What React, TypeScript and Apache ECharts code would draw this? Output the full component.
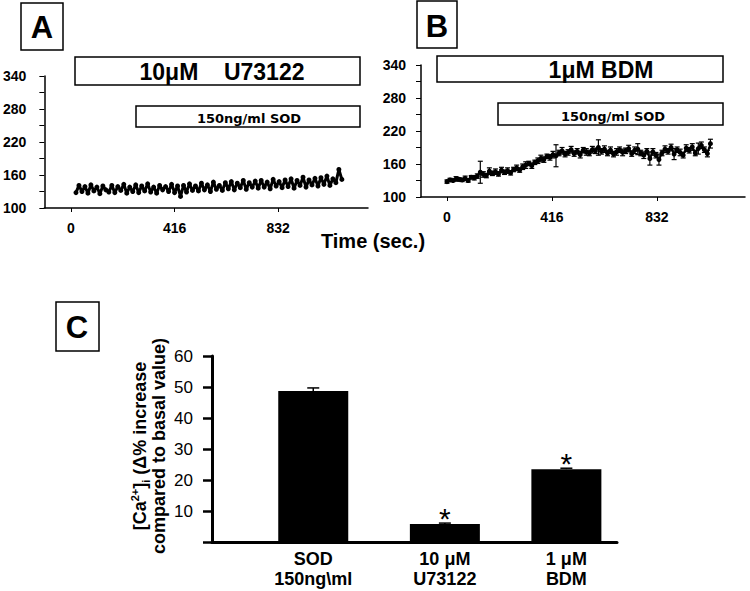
import React, { useEffect, useRef } from "react";
import * as echarts from "echarts";

// ---------- Panel A / B : time traces ----------
const traceYTicks = [100, 130, 160, 190, 220, 250, 280, 310, 340];
const traceYLabels = [100, 160, 220, 280, 340];
const traceXLabels = [0, 416, 832];

const sampleIntervalSec = 12;
const startTimeA = 20;
const startTimeB = 0;

// Panel A: 10 µM U73122 + 150 ng/ml SOD
const valuesA = [
  128, 141, 130, 139, 127, 142, 131, 138, 126, 140, 133,
  129, 141, 128, 139, 132, 143, 127, 138, 130, 142,
  128, 140, 131, 144, 129, 138, 127, 141, 133, 139,
  130, 143, 128, 140, 121, 141, 129, 144, 132, 140,
  131, 145, 133, 142, 130, 147, 134, 141, 132, 146,
  135, 148, 133, 145, 137, 150, 134, 146, 138, 149,
  136, 150, 138, 147, 135, 152, 140, 148, 137, 151,
  139, 153, 136, 150, 141, 156, 138, 151, 142, 154,
  140, 155, 143, 158, 141, 153, 146, 170, 152,
];

// Panel B: 1 µM BDM + 150 ng/ml SOD (mean and error)
const valuesB = [
  128, 131, 130, 133, 132, 131, 134, 130, 136, 135,
  138, 145, 141, 139, 147, 143, 146, 142, 149, 145,
  148, 144, 150, 153, 149, 155, 158, 161, 157, 163,
  166, 170, 168, 174, 172, 177, 175, 180, 184, 178,
  181, 186, 179, 183, 177, 185, 182, 180, 186, 184,
  190, 183, 187, 180, 185, 178, 182, 186, 181, 184,
  188, 179, 185, 187, 180, 176, 183, 170, 182, 176,
  168, 180, 187, 183, 190, 178, 186, 181, 176, 189,
  185, 191, 180, 188, 194, 186, 179, 197,
];
const errorsB = [
  3, 3, 2, 4, 3, 3, 4, 3, 3, 4,
  4, 20, 5, 4, 6, 4, 5, 4, 5, 4,
  5, 4, 4, 5, 4, 5, 6, 4, 5, 4,
  5, 6, 5, 4, 5, 6, 20, 5, 6, 5,
  5, 6, 5, 5, 6, 5, 6, 5, 6, 5,
  14, 5, 6, 5, 6, 5, 6, 5, 6, 5,
  6, 5, 6, 10, 5, 6, 5, 12, 6, 5,
  10, 5, 6, 5, 6, 10, 5, 6, 5, 6,
  5, 6, 5, 10, 6, 5, 6, 8,
];

// ---------- Panel C : bar chart ----------
const categoriesC = ["SOD\n150ng\\ml", "10 μM\nU73122", "1 μM\nBDM"];
const valuesC = [48.7, 5.8, 23.5];
const errorsC = [1.0, 0.3, 0.3];
const significanceC = ["", "*", "*"];

// layout: horizontal slot of each bar on the C x-axis (axis spans 0..4)
const barSlotsC = [1, 2.3, 3.5];

const FAMILY = "'Liberation Sans', Arial, sans-serif";

export default function App() {
  const ref = useRef<HTMLDivElement>(null);

  useEffect(() => {
    if (!ref.current) return;
    const chart = echarts.init(ref.current, undefined, { renderer: "svg" });

    const dataA = valuesA.map((v, i) => [startTimeA + i * sampleIntervalSec, v]);
    const dataB = valuesB.map((v, i) => [startTimeB + i * sampleIntervalSec, v]);
    const errDataB = valuesB.map((v, i) => [
      startTimeB + i * sampleIntervalSec,
      v - errorsB[i],
      v + errorsB[i],
    ]);
    const dataC = valuesC.map((v, i) => [barSlotsC[i], v]);
    const errDataC = valuesC.map((v, i) => [barSlotsC[i], v, errorsC[i]]);

    const traceLabel = {
      color: "#000",
      fontFamily: FAMILY,
      fontWeight: "bold" as const,
      fontSize: 14,
    };
    const blackLine = (w: number) => ({
      show: true,
      onZero: false,
      lineStyle: { color: "#000", width: w },
    });

    const traceX = (gridIndex: number, min: number, max: number) => ({
      type: "value" as const,
      gridIndex,
      min,
      max,
      axisLine: blackLine(1.5),
      axisTick: { show: true, customValues: traceXLabels, length: 4, lineStyle: { color: "#000" } },
      axisLabel: { ...traceLabel, customValues: traceXLabels, margin: 13 },
      splitLine: { show: false },
    });
    const traceY = (gridIndex: number, margin: number) => ({
      type: "value" as const,
      gridIndex,
      min: 100,
      max: 340,
      axisLine: blackLine(1.5),
      axisTick: { show: true, customValues: traceYTicks, length: 5, lineStyle: { color: "#000" } },
      axisLabel: { ...traceLabel, customValues: traceYLabels, margin },
      splitLine: { show: false },
    });

    const box = (x: number, y: number, w: number, h: number, lw = 1.5) => ({
      type: "rect",
      shape: { x, y, width: w, height: h },
      style: { fill: "#fff", stroke: "#000", lineWidth: lw },
    });
    const txt = (x: number, y: number, text: string, size: number, family = FAMILY) => ({
      type: "text",
      x,
      y,
      style: {
        text,
        fontSize: size,
        fontWeight: "bold",
        fontFamily: family,
        fill: "#000",
        textAlign: "center",
        textVerticalAlign: "middle",
      },
    });

    const option: any = {
      animation: false,
      backgroundColor: "#fff",
      grid: [
        { left: 40, top: 76, width: 328, height: 132 },
        { left: 421, top: 65, width: 324, height: 132 },
        { left: 212, top: 356, width: 405, height: 186 },
      ],
      xAxis: [
        traceX(0, -107, 1193),
        traceX(1, -103, 1181),
        {
          type: "value",
          gridIndex: 2,
          min: 0,
          max: 4,
          axisLine: blackLine(3),
          axisTick: { show: false },
          axisLabel: {
            customValues: barSlotsC,
            formatter: (v: number) => {
              const i = barSlotsC.findIndex((s) => Math.abs(s - v) < 1e-6);
              return i >= 0 ? categoriesC[i] : "";
            },
            color: "#000",
            fontFamily: FAMILY,
            fontWeight: "bold",
            fontSize: 18,
            lineHeight: 20,
            margin: 7,
          },
          splitLine: { show: false },
        },
      ],
      yAxis: [
        traceY(0, 18),
        traceY(1, 15),
        {
          type: "value",
          gridIndex: 2,
          min: 0,
          max: 60,
          interval: 10,
          axisLine: blackLine(3),
          axisTick: { show: true, length: 9, lineStyle: { color: "#000", width: 2.5 } },
          axisLabel: {
            formatter: (v: number) => (v === 0 ? "" : String(v)),
            color: "#000",
            fontFamily: FAMILY,
            fontSize: 17,
            margin: 19,
          },
          splitLine: { show: false },
        },
      ],
      series: [
        {
          type: "line",
          xAxisIndex: 0,
          yAxisIndex: 0,
          data: dataA,
          symbol: "circle",
          symbolSize: 5,
          lineStyle: { color: "#000", width: 3 },
          itemStyle: { color: "#000" },
          silent: true,
        },
        {
          type: "custom",
          xAxisIndex: 1,
          yAxisIndex: 1,
          data: errDataB,
          encode: { x: 0, y: [1, 2] },
          renderItem: (params: any, api: any) => {
            const lo = api.coord([api.value(0), api.value(1)]);
            const hi = api.coord([api.value(0), api.value(2)]);
            const c = 2.5;
            const st = { stroke: "#000", lineWidth: 1.2 };
            return {
              type: "group",
              children: [
                { type: "line", shape: { x1: lo[0], y1: lo[1], x2: hi[0], y2: hi[1] }, style: st },
                { type: "line", shape: { x1: hi[0] - c, y1: hi[1], x2: hi[0] + c, y2: hi[1] }, style: st },
                { type: "line", shape: { x1: lo[0] - c, y1: lo[1], x2: lo[0] + c, y2: lo[1] }, style: st },
              ],
            };
          },
          silent: true,
          z: 1,
        },
        {
          type: "line",
          xAxisIndex: 1,
          yAxisIndex: 1,
          data: dataB,
          symbol: "circle",
          symbolSize: 5,
          lineStyle: { color: "#000", width: 2 },
          itemStyle: { color: "#000" },
          silent: true,
          z: 2,
        },
        {
          type: "bar",
          xAxisIndex: 2,
          yAxisIndex: 2,
          data: dataC,
          barWidth: 70,
          itemStyle: { color: "#000" },
          silent: true,
        },
        {
          type: "custom",
          xAxisIndex: 2,
          yAxisIndex: 2,
          data: errDataC,
          encode: { x: 0, y: 1 },
          renderItem: (params: any, api: any) => {
            const x = api.value(0);
            const v = api.value(1);
            const e = api.value(2);
            const top = api.coord([x, v]);
            const hi = api.coord([x, v + e]);
            const st = { stroke: "#000", lineWidth: 1.5 };
            const sig = significanceC[params.dataIndex];
            const children: any[] = [
              { type: "line", shape: { x1: top[0], y1: top[1], x2: hi[0], y2: hi[1] }, style: st },
              { type: "line", shape: { x1: hi[0] - 6, y1: hi[1], x2: hi[0] + 6, y2: hi[1] }, style: st },
            ];
            if (sig) {
              children.push({
                type: "text",
                x: hi[0],
                y: hi[1] - 5,
                style: {
                  text: sig,
                  fontSize: 30,
                  fontFamily: FAMILY,
                  fill: "#000",
                  textAlign: "center",
                  textVerticalAlign: "middle",
                },
              });
            }
            return { type: "group", children };
          },
          silent: true,
          z: 3,
        },
      ],
      graphic: [
        // panel letters
        box(21, 3, 42, 47),
        txt(42, 27, "A", 31),
        box(417, 1, 40, 47),
        txt(437, 26, "B", 31),
        box(56, 302, 43, 49),
        txt(77, 327, "C", 31),
        // treatment bars A
        box(75, 57, 285, 28),
        txt(222, 72, "10μM    U73122", 23),
        box(136, 106, 224, 21),
        txt(249, 118, "150ng/ml SOD", 13, "'DejaVu Sans', sans-serif"),
        // treatment bars B
        box(437, 56, 286, 26),
        txt(601, 70, "1μM BDM", 23),
        box(498, 103, 225, 22),
        txt(613, 116, "150ng/ml SOD", 13, "'DejaVu Sans', sans-serif"),
        // shared time axis title
        txt(373, 241, "Time (sec.)", 20),
        // C y-axis title (rotated)
        {
          type: "text",
          x: 140,
          y: 446,
          rotation: Math.PI / 2,
          style: {
            text: "{a|[Ca}{sup|2+}{a|]}{sub|i}{a| (Δ% increase}",
            fill: "#000",
            fontSize: 18,
            fontWeight: "bold",
            fontFamily: FAMILY,
            textAlign: "center",
            textVerticalAlign: "middle",
            rich: {
              a: { fontSize: 18, fontWeight: "bold", fontFamily: FAMILY, fill: "#000", lineHeight: 22 },
              sup: { fontSize: 11, fontWeight: "bold", fontFamily: FAMILY, fill: "#000", verticalAlign: "top", lineHeight: 22 },
              sub: { fontSize: 11, fontWeight: "bold", fontFamily: FAMILY, fill: "#000", verticalAlign: "bottom", lineHeight: 22 },
            },
          },
        },
        {
          type: "text",
          x: 159,
          y: 446,
          rotation: Math.PI / 2,
          style: {
            text: "compared to basal value)",
            fontSize: 18,
            fontWeight: "bold",
            fontFamily: FAMILY,
            fill: "#000",
            textAlign: "center",
            textVerticalAlign: "middle",
          },
        },
      ],
    };

    chart.setOption(option);
    return () => chart.dispose();
  }, []);

  return (
    <div
      ref={ref}
      style={{ position: "fixed", left: 0, top: 0, width: 750, height: 591, background: "#fff" }}
    />
  );
}
